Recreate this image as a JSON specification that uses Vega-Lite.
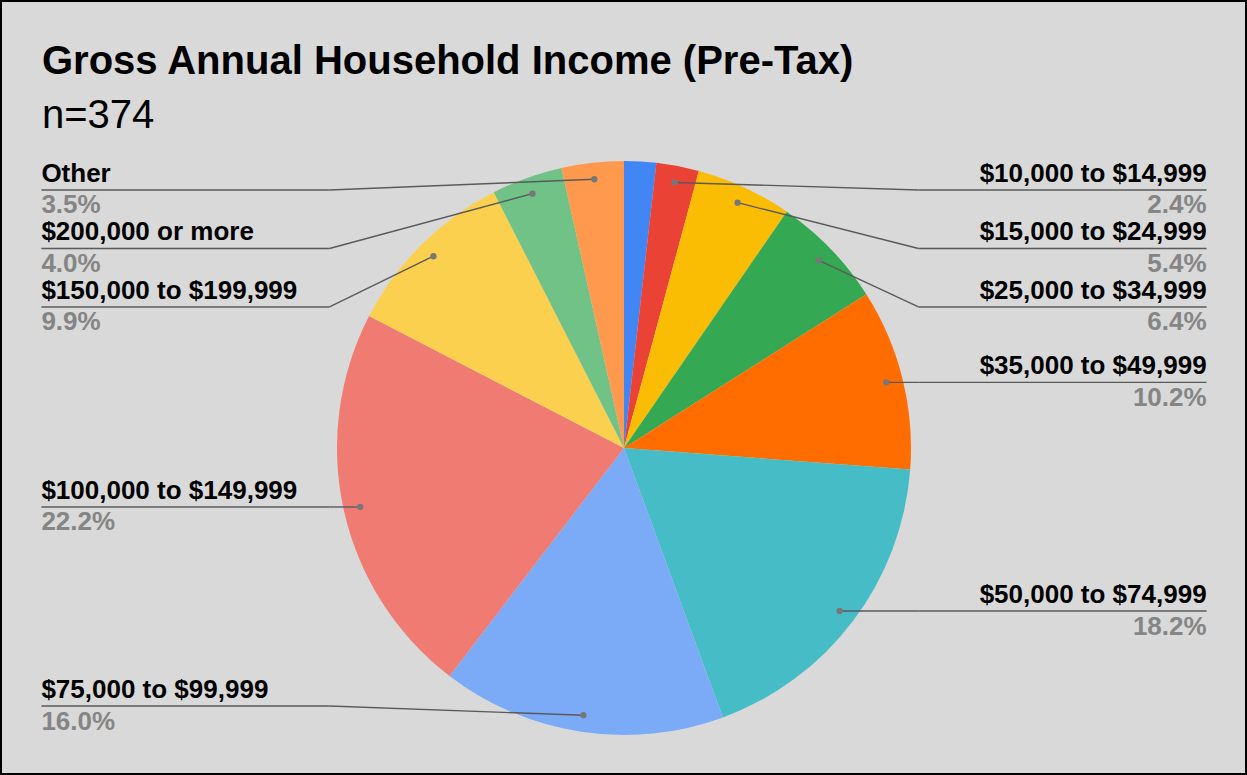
{
  "$schema": "https://vega.github.io/schema/vega-lite/v6.json",
  "width": 1247,
  "height": 775,
  "autosize": {"type": "none"},
  "padding": 0,
  "background": "#d9d9d9",
  "title": {
    "text": "Gross Annual Household Income (Pre-Tax)",
    "subtitle": "n=374",
    "anchor": "start",
    "orient": "top",
    "baseline": "top",
    "offset": -136,
    "dx": 42,
    "font": "Liberation Sans",
    "fontSize": 40,
    "fontWeight": "bold",
    "color": "#000000",
    "subtitleFont": "Liberation Sans",
    "subtitleFontSize": 40,
    "subtitleFontWeight": "normal",
    "subtitleColor": "#000000",
    "subtitlePadding": 14
  },
  "data": {
    "values": [
      {"label": "Less than $10,000", "value": 1.8, "order": 1},
      {"label": "$10,000 to $14,999", "value": 2.4, "order": 2},
      {"label": "$15,000 to $24,999", "value": 5.4, "order": 3},
      {"label": "$25,000 to $34,999", "value": 6.4, "order": 4},
      {"label": "$35,000 to $49,999", "value": 10.2, "order": 5},
      {"label": "$50,000 to $74,999", "value": 18.2, "order": 6},
      {"label": "$75,000 to $99,999", "value": 16.0, "order": 7},
      {"label": "$100,000 to $149,999", "value": 22.2, "order": 8},
      {"label": "$150,000 to $199,999", "value": 9.9, "order": 9},
      {"label": "$200,000 or more", "value": 4.0, "order": 10},
      {"label": "Other", "value": 3.5, "order": 11}
    ]
  },
  "transform": [
    {"joinaggregate": [{"op": "sum", "field": "value", "as": "total"}]},
    {"window": [{"op": "sum", "field": "value", "as": "cum"}], "sort": [{"field": "order", "order": "ascending"}], "frame": [null, 0]},
    {"calculate": "2*PI*(datum.cum - datum.value/2)/datum.total", "as": "mid"},
    {"calculate": "0.942*sin(datum.mid)", "as": "dotX"},
    {"calculate": "0.942*cos(datum.mid)", "as": "dotY"},
    {"calculate": "datum.dotX < 0 ? -1 : 1", "as": "side"},
    {"calculate": "format(datum.value, '.1f') + '%'", "as": "pct"}
  ],
  "encoding": {},
  "layer": [
    {
      "mark": {"type": "arc", "radius": 287, "stroke": null},
      "encoding": {
        "x": {"datum": 0, "type": "quantitative", "scale": {"domain": [-2.17422, 2.17073], "nice": false, "zero": false}, "axis": null},
        "y": {"datum": 0, "type": "quantitative", "scale": {"domain": [-1.13937, 1.56098], "nice": false, "zero": false}, "axis": null},
        "theta": {"field": "value", "type": "quantitative", "stack": true},
        "order": {"field": "order", "type": "quantitative"},
        "color": {
          "field": "label",
          "type": "nominal",
          "legend": null,
          "scale": {
            "domain": ["Less than $10,000", "$10,000 to $14,999", "$15,000 to $24,999", "$25,000 to $34,999", "$35,000 to $49,999", "$50,000 to $74,999", "$75,000 to $99,999", "$100,000 to $149,999", "$150,000 to $199,999", "$200,000 or more", "Other"],
            "range": ["#4285F4", "#EA4335", "#FBBC04", "#34A853", "#FF6D01", "#46BDC6", "#7BAAF7", "#F07B72", "#FCD04F", "#71C287", "#FF994D"]
          }
        }
      }
    },
    {
      "transform": [
        {"filter": "datum.value >= 2"},
        {"window": [{"op": "row_number", "as": "rank"}], "groupby": ["side"], "sort": [{"field": "dotY", "order": "descending"}]},
        {"calculate": "max(-0.899, min(datum.dotY, 0.899 - 0.2038*(datum.rank - 1)))", "as": "lineY"},
        {"calculate": "datum.side*1.026", "as": "elbowX"},
        {"calculate": "datum.side*2.03", "as": "edgeX"}
      ],
      "encoding": {},
      "layer": [
        {
          "mark": {"type": "rule", "color": "#5a5a5a", "strokeWidth": 1.4},
          "encoding": {
            "x": {"field": "edgeX", "type": "quantitative"},
            "y": {"field": "lineY", "type": "quantitative"},
            "x2": {"field": "elbowX"},
            "y2": {"field": "lineY"}
          }
        },
        {
          "mark": {"type": "rule", "color": "#5a5a5a", "strokeWidth": 1.4},
          "encoding": {
            "x": {"field": "elbowX", "type": "quantitative"},
            "y": {"field": "lineY", "type": "quantitative"},
            "x2": {"field": "dotX"},
            "y2": {"field": "dotY"}
          }
        },
        {
          "mark": {"type": "point", "filled": true, "color": "#777777", "opacity": 1, "size": 40},
          "encoding": {
            "x": {"field": "dotX", "type": "quantitative"},
            "y": {"field": "dotY", "type": "quantitative"}
          }
        },
        {
          "mark": {"type": "text", "font": "Liberation Sans", "fontSize": 26, "fontWeight": "bold", "color": "#000000", "baseline": "alphabetic", "dy": -8, "align": {"expr": "datum.side < 0 ? 'left' : 'right'"}},
          "encoding": {
            "x": {"field": "edgeX", "type": "quantitative"},
            "y": {"field": "lineY", "type": "quantitative"},
            "text": {"field": "label"}
          }
        },
        {
          "mark": {"type": "text", "font": "Liberation Sans", "fontSize": 26, "fontWeight": "bold", "color": "#858585", "baseline": "alphabetic", "dy": 23.5, "align": {"expr": "datum.side < 0 ? 'left' : 'right'"}},
          "encoding": {
            "x": {"field": "edgeX", "type": "quantitative"},
            "y": {"field": "lineY", "type": "quantitative"},
            "text": {"field": "pct"}
          }
        }
      ]
    }
  ],
  "config": {
    "view": {"stroke": "#000000", "strokeWidth": 4}
  }
}
